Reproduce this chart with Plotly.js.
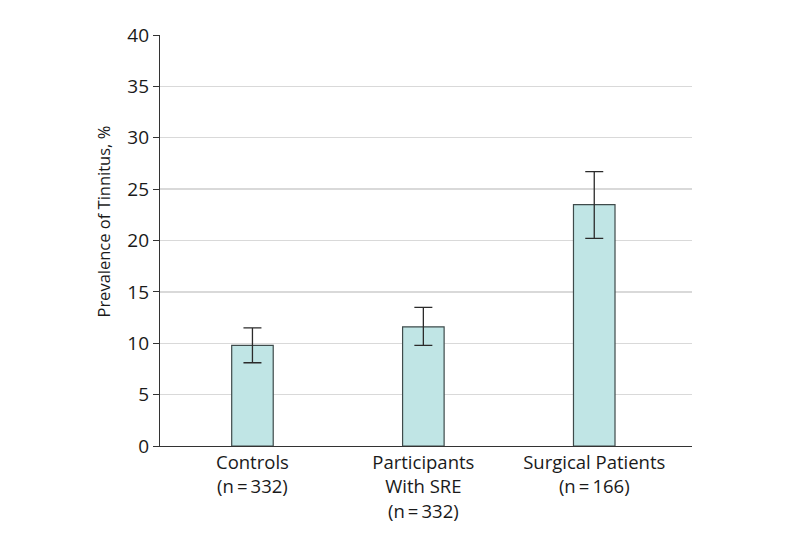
<!DOCTYPE html>
<html>
<head>
<meta charset="utf-8">
<script src="https://cdn.plot.ly/plotly-3.0.1.min.js"></script>
<style>
  body { margin: 0; background: #fff; }
  #plot { width: 794px; height: 546px; }
</style>
</head>
<body>
<div id="plot"></div>
<script>
// groupes et prévalence (%)
const groups = [
    'Controls<br>(n\u2009=\u2009332)',
    'Participants<br>With SRE<br>(n\u2009=\u2009332)',
    'Surgical Patients<br>(n\u2009=\u2009166)'
];
const prevalence = [9.8, 11.6, 23.5];
const ciHigh = [11.5, 13.5, 26.7];  // borne haute IC
const ciLow = [8.1, 9.8, 20.2];     // borne basse IC

const errPlus = prevalence.map((v, i) => +(ciHigh[i] - v).toFixed(2));
const errMinus = prevalence.map((v, i) => +(v - ciLow[i]).toFixed(2));

const font = 'Open Sans, Noto Sans, sans-serif';

Plotly.newPlot('plot', [{
    x: groups,
    y: prevalence,
    type: 'bar',
    width: 0.243,
    marker: {
        color: '#c0e5e5',
        line: { color: '#3f4b4b', width: 1.2 }
    },
    error_y: {
        type: 'data',
        symmetric: false,
        array: errPlus,
        arrayminus: errMinus,
        color: '#2b2b2b',
        thickness: 1.3,
        width: 9
    },
    hoverinfo: 'none'
}], {
    width: 794,
    height: 546,
    margin: { l: 160, r: 102, t: 35, b: 100 },
    plot_bgcolor: '#fff',
    paper_bgcolor: '#fff',
    showlegend: false,
    font: { family: font, size: 18, color: '#1a1a1a' },
    xaxis: {
        type: 'category',
        range: [-0.541, 2.572],
        showline: true,
        linecolor: '#333',
        linewidth: 1.2,
        ticks: '',
        showgrid: false,
        zeroline: false,
        tickfont: { family: font, size: 18.5, color: '#1a1a1a' }
    },
    yaxis: {
        range: [0, 40],
        dtick: 5,
        showline: true,
        linecolor: '#333',
        linewidth: 1.2,
        ticks: 'outside',
        ticklen: 6,
        tickcolor: '#333',
        showgrid: true,
        gridcolor: '#d9d9d9',
        gridwidth: 1.3,
        zeroline: false,
        tickfont: { family: font, size: 19, color: '#1a1a1a' }
    },
    // titre de l'axe y, un peu au-dessus du centre comme dans l'original
    annotations: [{
        text: 'Prevalence of Tinnitus, %',
        xref: 'paper', yref: 'paper',
        x: -0.108, y: 0.545,
        xanchor: 'center', yanchor: 'middle',
        textangle: -90,
        showarrow: false,
        font: { family: font, size: 16.5, color: '#1a1a1a' }
    }]
}, { staticPlot: true });
</script>
</body>
</html>
